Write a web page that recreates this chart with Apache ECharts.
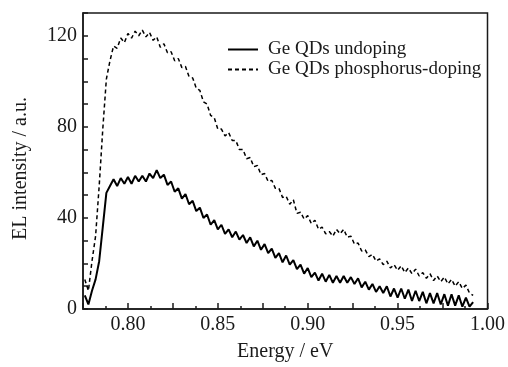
<!DOCTYPE html>
<html>
<head>
<meta charset="utf-8">
<script src="https://cdn.jsdelivr.net/npm/echarts@6/dist/echarts.min.js"></script>
<style>html,body{margin:0;padding:0;background:#fff}#c{width:508px;height:367px}</style>
</head>
<body>
<div id="c"></div>
<script>
const energy = [
0.776,0.778,0.780,0.782,0.784,0.786,0.788,0.790,0.792,0.794,0.796,0.798,
0.800,0.802,0.804,0.806,0.808,0.810,0.812,0.814,0.816,0.818,0.820,0.822,
0.824,0.826,0.828,0.830,0.832,0.834,0.836,0.838,0.840,0.842,0.844,0.846,
0.848,0.850,0.852,0.854,0.856,0.858,0.860,0.862,0.864,0.866,0.868,0.870,
0.872,0.874,0.876,0.878,0.880,0.882,0.884,0.886,0.888,0.890,0.892,0.894,
0.896,0.898,0.900,0.902,0.904,0.906,0.908,0.910,0.912,0.914,0.916,0.918,
0.920,0.922,0.924,0.926,0.928,0.930,0.932,0.934,0.936,0.938,0.940,0.942,
0.944,0.946,0.948,0.950,0.952,0.954,0.956,0.958,0.960,0.962,0.964,0.966,
0.968,0.970,0.972,0.974,0.976,0.978,0.980,0.982,0.984,0.986,0.988,0.990,0.992
];
const undoped = [
6,2,8,13,21,36,51,54,57,54,57.5,55,
58,55,58.5,56,58.5,56,59.5,57.5,61,57.5,59,54.5,
56,51.5,53,48.5,50.5,46,47.5,43,44.5,40,41.5,37,
39,35,37,33,35,31.5,34,30.5,32.5,29,31.5,27.5,
30,26,28.5,24.5,26.5,22.5,24.5,20.5,23.5,19.5,21.5,17.5,
19.5,15.5,18,14,16,12.5,15.5,12,15,11.5,14.5,11.5,
14.5,11.5,14,11,13.5,9.5,12,8.5,11,7.5,10,7,
10,5.5,9,5,9,4.5,8.5,3.5,8,3.5,7.5,2.5,
7,2.5,7,2,6.5,1.5,6.5,1.5,6,1,5,1,3
];
const phosphorus = [
13,8,21,32,54,79,101,109,115.5,114.5,119,117,
121,119,122,120,122.5,119.5,121.5,118,119.5,115,116.5,112.5,
113,109,110,106,106.5,102,101.5,97,96,91,90,85,
84,79,79,76,77.5,74,74,70,70,66,66.5,62.5,
63,59,59.5,56,56.5,53,53,49,49.5,46,48,42,
42.5,39.5,41,37.5,39,35,36,33,34,32,35,33,
35,31.5,32,28.5,29,25.5,26,23,24,21,22,19.5,
21,18,19.5,17,19,16,18,15.5,17.5,14.5,16,13.5,
15.5,12.5,14.5,12,14,11,13,10,12,9,10.5,7,6
];
const seriesNames = ['Ge QDs undoping', 'Ge QDs phosphorus-doping'];
const xLabelValues = [0.80, 0.85, 0.90, 0.95, 1.00];
const yLabelValues = [0, 40, 80, 120];

const font = '"Liberation Serif", "Times New Roman", serif';
const ink = '#1a1a1a';
const chart = echarts.init(document.getElementById('c'), null, {renderer: 'canvas'});
chart.setOption({
  animation: false,
  backgroundColor: '#fff',
  grid: {left: 83, right: 16, top: 13, bottom: 55, show: true, borderColor: ink, borderWidth: 1.5, backgroundColor: 'transparent'},
  legend: {
    orient: 'vertical', left: 227, top: 40, padding: 0, itemWidth: 30, itemHeight: 10, itemGap: 1,
    itemStyle: {opacity: 0},
    textStyle: {fontFamily: font, fontSize: 19, color: ink, padding: [0, 0, 0, 5]},
    data: seriesNames.map(n => ({name: n}))
  },
  xAxis: {
    type: 'value', min: 0.775, max: 1.0, interval: 0.025,
    name: 'Energy / eV', nameLocation: 'middle', nameGap: 33,
    nameTextStyle: {fontFamily: font, fontSize: 20, color: ink},
    axisLine: {lineStyle: {color: ink, width: 1.5}},
    axisTick: {inside: true, length: 6, lineStyle: {color: ink, width: 1.5}},
    minorTick: {show: true, splitNumber: 2, length: 3, lineStyle: {color: ink, width: 1.5}},
    splitLine: {show: false},
    axisLabel: {
      fontFamily: font, fontSize: 20, color: ink, margin: 6,
      showMinLabel: true, showMaxLabel: true,
      formatter: v => {
        const m = xLabelValues.find(t => Math.abs(t - v) < 1e-6);
        return m === undefined ? '' : m.toFixed(2);
      }
    }
  },
  yAxis: {
    type: 'value', min: 0, max: 130, interval: 10,
    name: 'EL intensity / a.u.', nameLocation: 'middle', nameGap: 52,
    nameTextStyle: {fontFamily: font, fontSize: 20, color: ink, padding: [0, 15, 0, 0]},
    axisLine: {lineStyle: {color: ink, width: 1.5}},
    axisTick: {inside: true, length: 5, lineStyle: {color: ink, width: 1.5}},
    splitLine: {show: false},
    axisLabel: {
      fontFamily: font, fontSize: 20, color: ink, margin: 6,
      formatter: v => yLabelValues.includes(Math.round(v)) && Math.abs(v - Math.round(v)) < 1e-6 ? String(Math.round(v)) : ''
    }
  },
  series: [
    {
      name: seriesNames[0], type: 'line', symbol: 'none', smooth: false,
      data: energy.map((e, i) => [e, undoped[i]]),
      lineStyle: {color: '#000', width: 2},
      itemStyle: {color: '#000'}
    },
    {
      name: seriesNames[1], type: 'line', symbol: 'none', smooth: false,
      data: energy.map((e, i) => [e, phosphorus[i]]),
      lineStyle: {color: '#000', width: 1.5, type: [4, 3]},
      itemStyle: {color: '#000'}
    }
  ]
});
</script>
</body>
</html>
